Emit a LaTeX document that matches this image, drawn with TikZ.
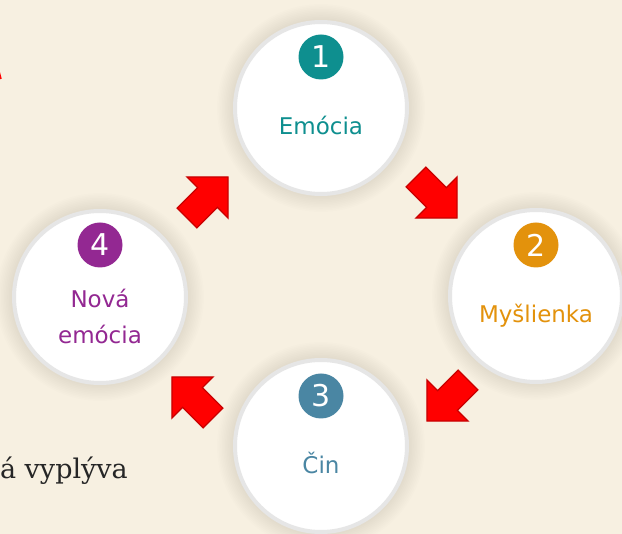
\documentclass[tikz,border=0pt]{standalone}
\usepackage{fontspec}
\setmainfont{DejaVu Serif}
\newfontfamily\stagefont{DejaVu Sans}
\usetikzlibrary{calc,backgrounds}
\definecolor{paper}{HTML}{F7F0E1}
\definecolor{ringgray}{HTML}{E6E6E6}
\definecolor{emocol}{HTML}{0E8F8F}
\definecolor{myscol}{HTML}{E3920C}
\definecolor{cincol}{HTML}{4A86A3}
\definecolor{novcol}{HTML}{932892}
\definecolor{arrowdark}{HTML}{C80000}
\tikzset{
  stage/.style  = {circle, draw=ringgray, line width=4pt, fill=white,
                   minimum size=172pt, inner sep=0pt},
  badge/.style  = {circle, minimum size=45pt, inner sep=0pt, text=white,
                   font=\stagefont\fontsize{30}{32}\selectfont},
  lbl/.style    = {align=center, font=\stagefont\fontsize{23}{36}\selectfont},
  halo/.style   = {fill=black!70!brown, opacity=0.009},
  blockarrow/.style = {fill=red, draw=arrowdark, line width=1.3pt, line join=miter},
  bigarrow/.pic = {\path[blockarrow] (-29,-14) -- (0,-14) -- (0,-29) -- (29,0)
                    -- (0,29) -- (0,14) -- (-29,14) -- cycle;},
}

\begin{document}
\begin{tikzpicture}[x=1pt, y=-1pt]
  \useasboundingbox (0,0) rectangle (622,534);
  \clip (0,0) rectangle (622,534);

  % the four stages
  \node[stage] (emo) at (321,108) {};
  \node[stage] (mys) at (536,296) {};
  \node[stage] (cin) at (321,446) {};
  \node[stage] (nov) at (100,297) {};

  \node[badge, fill=emocol] (b1) at ($(emo)+(0,-51)$) {1};
  \node[badge, fill=myscol] (b2) at ($(mys)+(0,-51)$) {2};
  \node[badge, fill=cincol] (b3) at ($(cin)+(0,-50)$) {3};
  \node[badge, fill=novcol] (b4) at ($(nov)+(0,-52)$) {4};

  \node[lbl, text=emocol, anchor=base] (t1) at ($(emo)+(0,27)$) {Emócia};
  \node[lbl, text=myscol, anchor=base] (t2) at ($(mys)+(0,27)$) {Myšlienka};
  \node[lbl, text=cincol, anchor=base] (t3) at ($(cin)+(0,28)$) {Čin};
  \node[lbl, text=novcol] (t4) at ($(nov)+(0,19)$) {Nová\\emócia};

  % block arrows between the stages
  \path (207.5,197.5) pic[rotate=45]   {bigarrow};
  \path (436.5,197.5) pic[rotate=-45]  {bigarrow};
  \path (447.5,400.5) pic[rotate=-135] {bigarrow};
  \path (192.5,397.5) pic[rotate=135]  {bigarrow};

  % cut-off page text
  \node[anchor=base east, inner sep=0pt, text=black!85,
        font=\fontsize{27}{30}\selectfont] (rest) at (128,479) {á vyplýva};
  \draw[red, line width=1.5pt] (-4,60) -- (1,79);

  \begin{scope}[on background layer]
    \fill[paper] (0,0) rectangle (622,534);
    \foreach \c in {emo,mys,cin,nov}
      \foreach \k in {1,...,10}
        \fill[halo] (\c) circle ({88pt+1.6pt*\k});
  \end{scope}
\end{tikzpicture}
\end{document}
